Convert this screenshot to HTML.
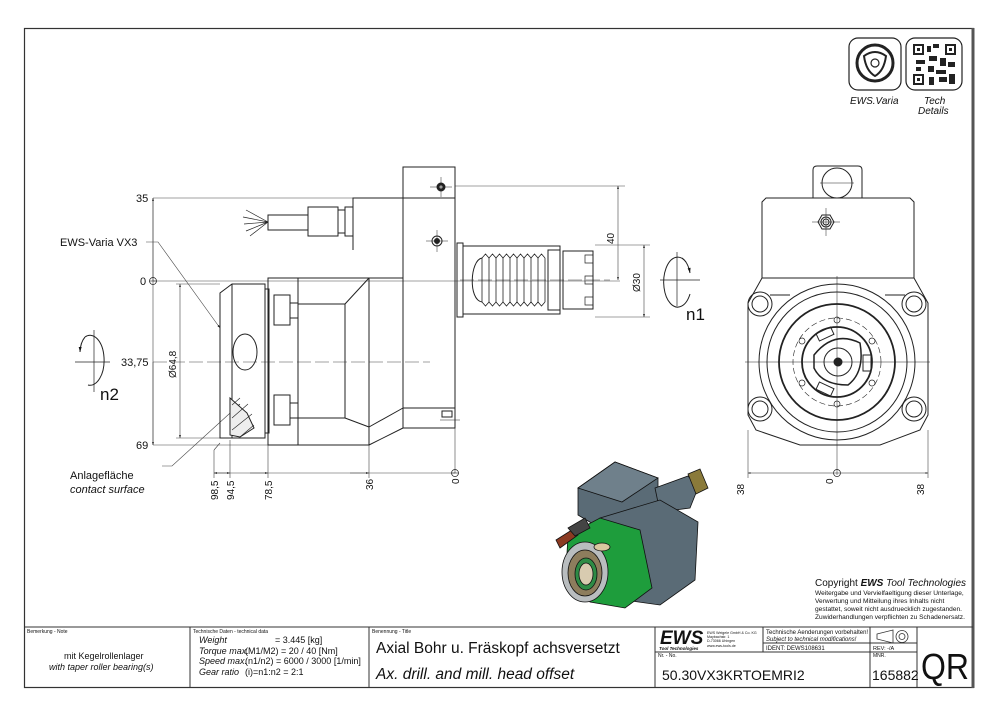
<!DOCTYPE html>
<html><head><meta charset="utf-8"><style>
html,body{margin:0;padding:0;background:#fff}
svg{display:block}
text{font-family:"Liberation Sans",sans-serif;fill:#111}
</style></head><body>
<svg width="1000" height="715" viewBox="0 0 1000 715" xmlns="http://www.w3.org/2000/svg">
<defs>
<marker id="a" viewBox="0 0 10 10" refX="10" refY="5" markerWidth="7" markerHeight="5" orient="auto-start-reverse"><path d="M0,2L10,5L0,8z" fill="#111"/></marker>
</defs>
<rect x="0" y="0" width="1000" height="715" fill="#fff"/>
<rect x="24.5" y="28.5" width="949" height="659" fill="none" stroke="#333" stroke-width="1.2"/>
<line x1="973" y1="28" x2="973" y2="688" stroke="#555" stroke-width="3"/>
<g stroke="#333" stroke-width="1" fill="none">
<line x1="24" y1="627" x2="973" y2="627"/>
<line x1="190" y1="627" x2="190" y2="688"/>
<line x1="369" y1="627" x2="369" y2="688"/>
<line x1="655" y1="627" x2="655" y2="688"/>
<line x1="763" y1="627" x2="763" y2="652"/>
<line x1="870" y1="627" x2="870" y2="688"/>
<line x1="917" y1="627" x2="917" y2="688"/>
<line x1="655" y1="652" x2="917" y2="652"/>
<line x1="763" y1="643" x2="917" y2="643"/>
</g>
<g font-size="5"><text x="27" y="633">Bemerkung - Note</text><text x="193" y="633">Technische Daten - technical data</text><text x="372" y="633">Benennung - Title</text><text x="658" y="657">Nr. - No.</text><text x="873" y="657">MNR.</text></g>
<text x="64" y="659" font-size="9">mit Kegelrollenlager</text>
<text x="49" y="670" font-size="9" font-style="italic">with taper roller bearing(s)</text>
<g font-size="9" font-style="italic"><text x="199" y="643">Weight</text><text x="199" y="654">Torque max.</text><text x="199" y="664">Speed max.</text><text x="199" y="675">Gear ratio</text></g>
<g font-size="9"><text x="275" y="643">=  3.445 [kg]</text><text x="245" y="654">(M1/M2) =  20 / 40 [Nm]</text><text x="245" y="664">(n1/n2)  =  6000 / 3000 [1/min]</text><text x="245" y="675">(i)=n1:n2 =  2:1</text></g>
<text x="376" y="653" font-size="15.5">Axial Bohr u. Fräskopf achsversetzt</text>
<text x="376" y="679" font-size="15.5" font-style="italic">Ax. drill. and mill. head offset</text>
<text x="660" y="644" font-size="19" font-weight="bold" font-style="italic">EWS</text>
<text x="659" y="650" font-size="4.5" font-weight="bold" font-style="italic">Tool Technologies</text>
<g font-size="3.6"><text x="707" y="634">EWS Weigele GmbH &amp; Co. KG</text><text x="707" y="638">Maybachstr. 1</text><text x="707" y="642">D-73066 Uhingen</text><text x="707" y="647">www.ews-tools.de</text></g>
<text x="766" y="634" font-size="6">Technische Aenderungen vorbehalten!</text>
<text x="766" y="641" font-size="6" font-style="italic">Subject to technical modifications!</text>
<text x="766" y="650" font-size="6">IDENT:  DEWS108631</text>
<text x="873" y="650" font-size="5.5">REV:  -/A</text>
<g stroke="#333" fill="none" stroke-width="0.8"><path d="M877,634L893,630L893,643L877,639z"/><circle cx="902" cy="636.5" r="6"/><circle cx="902" cy="636.5" r="3"/></g>
<text x="662" y="680" font-size="14">50.30VX3KRTOEMRI2</text>
<text x="872" y="680" font-size="14">165882</text>
<text x="921" y="679" font-size="36" textLength="48" lengthAdjust="spacingAndGlyphs">QR</text>
<g stroke="#222" fill="none" stroke-width="1.2">
<rect x="849" y="38" width="52" height="52" rx="9"/>
<rect x="906" y="38" width="56" height="52" rx="9"/>
<circle cx="875" cy="63" r="18" stroke-width="3"/>
<path d="M864,56Q875,48 886,56Q884,71 875,76Q866,71 864,56z" stroke-width="2"/>
<circle cx="875" cy="63" r="4"/>
</g>
<g fill="#222">
<rect x="913" y="44" width="11" height="11"/><rect x="945" y="44" width="11" height="11"/><rect x="913" y="74" width="11" height="11"/>
<rect x="927" y="46" width="4" height="6"/><rect x="933" y="44" width="6" height="4"/><rect x="929" y="56" width="8" height="5"/><rect x="916" y="60" width="9" height="4"/><rect x="940" y="58" width="6" height="8"/><rect x="948" y="62" width="7" height="5"/><rect x="928" y="66" width="6" height="6"/><rect x="936" y="70" width="10" height="4"/><rect x="929" y="77" width="5" height="8"/><rect x="939" y="77" width="8" height="5"/><rect x="949" y="74" width="6" height="10"/><rect x="916" y="67" width="5" height="4"/>
</g>
<g fill="#fff"><rect x="915" y="46" width="7" height="7"/><rect x="947" y="46" width="7" height="7"/><rect x="915" y="76" width="7" height="7"/></g>
<g fill="#222"><rect x="917" y="48" width="3" height="3"/><rect x="949" y="48" width="3" height="3"/><rect x="917" y="78" width="3" height="3"/></g>
<text x="850" y="104" font-size="10" font-style="italic">EWS.Varia</text>
<text x="924" y="104" font-size="10" font-style="italic">Tech</text>
<text x="918" y="114" font-size="10" font-style="italic">Details</text>

<g stroke="#222" fill="none" stroke-width="1">
<g stroke-width="0.6" stroke="#444">
<line x1="153" y1="198" x2="353" y2="198"/>
<line x1="153" y1="281" x2="620" y2="281"/>
<line x1="153" y1="445" x2="268" y2="445"/>
<line x1="153" y1="198" x2="153" y2="445"/>
<line x1="153" y1="198" x2="153" y2="281" marker-start="url(#a)"/>
<line x1="153" y1="362" x2="153" y2="445" marker-end="url(#a)"/>
<line x1="180" y1="284" x2="180" y2="438" marker-start="url(#a)" marker-end="url(#a)"/>
<line x1="176" y1="284" x2="220" y2="284"/><line x1="176" y1="438" x2="220" y2="438"/>
<line x1="153" y1="362" x2="430" y2="362" stroke-dasharray="14,4"/>
<line x1="214" y1="473" x2="455" y2="473"/>
<line x1="214" y1="450" x2="214" y2="478"/><line x1="214" y1="450" x2="220" y2="443"/>
<line x1="230" y1="440" x2="230" y2="478"/>
<line x1="268" y1="445" x2="268" y2="478"/>
<line x1="369" y1="445" x2="369" y2="478"/>
<line x1="455" y1="420" x2="455" y2="473"/>
<line x1="214" y1="473" x2="230" y2="473" marker-start="url(#a)" marker-end="url(#a)"/>
<line x1="250" y1="473" x2="268" y2="473" marker-end="url(#a)"/>
<line x1="350" y1="473" x2="369" y2="473" marker-end="url(#a)"/>
<line x1="455" y1="186" x2="625" y2="186"/>
<line x1="618" y1="186" x2="618" y2="280" marker-start="url(#a)" marker-end="url(#a)"/>
<line x1="595" y1="245" x2="650" y2="245"/><line x1="595" y1="317" x2="650" y2="317"/>
<line x1="644" y1="245" x2="644" y2="317" marker-start="url(#a)" marker-end="url(#a)"/>
<line x1="460" y1="280" x2="610" y2="280" stroke-dasharray="14,4"/>
<polyline points="146,242 158,242 220,328" marker-end="url(#a)"/>
<polyline points="162,466 172,466 240,404" marker-end="url(#a)"/>
</g>
<circle cx="153" cy="281" r="3.5" stroke-width="0.7"/><line x1="149" y1="281" x2="157" y2="281" stroke-width="0.6"/>
<circle cx="455" cy="473" r="3.5" stroke-width="0.7"/><line x1="451" y1="473" x2="459" y2="473" stroke-width="0.6"/>
<rect x="403" y="167" width="52" height="31"/>
<polyline points="353,250 353,198 455,198 455,428 403,428"/>
<line x1="403" y1="198" x2="403" y2="428"/>
<line x1="403" y1="408" x2="455" y2="408"/>
<line x1="440" y1="420" x2="460" y2="420" stroke-width="0.6"/>
<rect x="442" y="411" width="10" height="6"/>
<circle cx="441" cy="187" r="4" fill="#222"/><circle cx="441" cy="187" r="1.5" fill="#fff" stroke="none"/>
<circle cx="437" cy="241" r="5"/><circle cx="437" cy="241" r="2.5" fill="#222"/>
<g stroke-width="0.5"><line x1="430" y1="187" x2="452" y2="187"/><line x1="441" y1="177" x2="441" y2="197"/><line x1="426" y1="241" x2="448" y2="241"/><line x1="437" y1="230" x2="437" y2="252"/></g>
<rect x="268" y="215" width="40" height="15"/>
<rect x="308" y="207" width="30" height="29"/>
<rect x="338" y="210" width="7" height="23"/>
<rect x="345" y="207" width="8" height="29"/>
<path d="M268,222L246,210M268,222L243,217M268,222L244,224M268,222L246,231M268,222L250,236" stroke-width="0.7"/>
<rect x="268" y="278" width="30" height="167"/>
<polyline points="298,278 369,278 369,445 298,445"/>
<line x1="369" y1="278" x2="403" y2="278"/>
<rect x="298" y="304" width="47" height="114"/>
<line x1="345" y1="304" x2="369" y2="278"/><line x1="345" y1="418" x2="369" y2="427"/>
<line x1="369" y1="445" x2="403" y2="428"/><line x1="369" y1="427" x2="403" y2="408"/>
<rect x="274" y="295" width="16" height="30"/><rect x="274" y="395" width="16" height="30"/>
<rect x="290" y="303" width="8" height="15"/><rect x="290" y="403" width="8" height="15"/>
<path d="M220,438L220,293L232,284L265,284L265,438z"/>
<line x1="232" y1="284" x2="232" y2="438"/>
<rect x="265" y="289" width="4" height="144"/>
<ellipse cx="245" cy="352" rx="12" ry="18"/>
<path d="M230,398L247,413L254,428L240,437L230,435z" fill="#eee"/>
<path d="M232,405L240,398M232,418L248,404M232,430L252,414M240,437L254,425" stroke-width="0.6"/>
<rect x="457" y="243" width="6" height="74"/>
<rect x="463" y="246" width="97" height="68"/>
<rect x="548" y="250" width="12" height="60"/>
<path d="M482,258C470,260 468,300 482,302" />
<g stroke-width="0.8">
<path d="M482,258V302M489,258V302M496,258V302M503,258V302M510,258V302M517,258V302M524,258V302M531,258V302M538,258V302M545,258V302"/>
<path d="M482,258L485.5,254L489,258L492.5,254L496,258L499.5,254L503,258L506.5,254L510,258L513.5,254L517,258L520.5,254L524,258L527.5,254L531,258L534.5,254L538,258L541.5,254L545,258"/>
<path d="M482,302L485.5,306L489,302L492.5,306L496,302L499.5,306L503,302L506.5,306L510,302L513.5,306L517,302L520.5,306L524,302L527.5,306L531,302L534.5,306L538,302L541.5,306L545,302"/>
</g>
<path d="M563,251H593V309H563z"/>
<path d="M585,255h8v8h-8zM585,276h8v8h-8zM585,297h8v8h-8z" stroke-width="0.7"/>
<path d="M686,262A14,25 0 1 0 690,294" /><path d="M682,258A14,24 0 0 1 690,273" marker-end="url(#a)"/>
<line x1="660" y1="280" x2="700" y2="280" stroke-width="0.7"/><line x1="677" y1="252" x2="677" y2="306" stroke-width="0.7"/>
<path d="M85,337A14,25 0 1 1 88,385"/><path d="M85,337A12,20 0 0 0 80,352" marker-end="url(#a)"/>
<line x1="75" y1="362" x2="110" y2="362" stroke-width="0.7"/><line x1="94" y1="330" x2="94" y2="392" stroke-width="0.7"/>
</g>
<g font-size="11"><text x="136" y="202">35</text><text x="140" y="285">0</text><text x="121" y="366">33,75</text><text x="136" y="449">69</text>
<text x="60" y="246">EWS-Varia VX3</text><text x="70" y="479">Anlagefläche</text><text x="70" y="493" font-style="italic">contact surface</text></g>
<text x="100" y="400" font-size="17">n2</text>
<text x="686" y="320" font-size="17">n1</text>
<g font-size="10">
<text transform="translate(176,378) rotate(-90)">Ø64,8</text>
<text transform="translate(218,500) rotate(-90)">98,5</text>
<text transform="translate(234,500) rotate(-90)">94,5</text>
<text transform="translate(272,500) rotate(-90)">78,5</text>
<text transform="translate(373,490) rotate(-90)">36</text>
<text transform="translate(459,484) rotate(-90)">0</text>
<text transform="translate(614,244) rotate(-90)">40</text>
<text transform="translate(640,292) rotate(-90)">Ø30</text>
<text transform="translate(744,495) rotate(-90)">38</text>
<text transform="translate(833,484) rotate(-90)">0</text>
<text transform="translate(924,495) rotate(-90)">38</text>
</g>

<g stroke="#222" fill="none" stroke-width="1">
<path d="M813,198V170Q813,166 817,166H858Q862,166 862,170V198"/>
<circle cx="837" cy="183" r="15"/>
<path d="M762,278V202L766,198H910L914,202V278"/>
<path d="M818,222L822,215H830L834,222L830,229H822z"/><circle cx="826" cy="222" r="5"/><circle cx="826" cy="222" r="3"/>
<path d="M762,278L748,303V415L756,430L800,445H880L920,430L928,415V303L914,278z"/>
<path d="M770,295L790,295M905,295L885,295"/>
<circle cx="837" cy="362" r="78"/>
<circle cx="837" cy="362" r="70"/>
<circle cx="837" cy="362" r="58" stroke-width="1.8"/>
<circle cx="837" cy="362" r="44" stroke-dasharray="6,3" stroke-width="0.6"/>
<circle cx="837" cy="362" r="35" stroke-width="1.8"/>
<path d="M814,355Q834,330 860,343Q865,372 848,385Q822,385 814,368z" stroke-width="1.5"/>
<circle cx="838" cy="362" r="14"/><circle cx="838" cy="362" r="4" fill="#222"/>
<rect x="817" y="330" width="16" height="8" transform="rotate(-25 825 334)"/><rect x="817" y="385" width="16" height="8" transform="rotate(25 825 389)"/><rect x="863" y="355" width="8" height="16"/>
<g stroke-width="0.7"><circle cx="837" cy="320" r="3"/><circle cx="837" cy="404" r="3"/><circle cx="802" cy="341" r="3"/><circle cx="872" cy="341" r="3"/><circle cx="802" cy="383" r="3"/><circle cx="872" cy="383" r="3"/></g>
<g><circle cx="760" cy="304" r="12"/><circle cx="760" cy="304" r="8"/><circle cx="914" cy="304" r="12"/><circle cx="914" cy="304" r="8"/><circle cx="760" cy="409" r="12"/><circle cx="760" cy="409" r="8"/><circle cx="914" cy="409" r="12"/><circle cx="914" cy="409" r="8"/></g>
<g stroke-width="0.5"><line x1="837" y1="276" x2="837" y2="475"/><line x1="745" y1="362" x2="930" y2="362"/><line x1="748" y1="430" x2="748" y2="478"/><line x1="928" y1="430" x2="928" y2="478"/><line x1="826" y1="208" x2="826" y2="236"/><line x1="812" y1="222" x2="840" y2="222"/><line x1="820" y1="183" x2="854" y2="183"/>
<line x1="748" y1="473" x2="928" y2="473" marker-start="url(#a)" marker-end="url(#a)"/></g>
<circle cx="837" cy="473" r="3.5" stroke-width="0.7"/>
</g>

<g stroke="#111" stroke-width="0.8">
<polygon points="578,488 615,462 658,478 658,520 620,540 578,515" fill="#5a6b76"/>
<polygon points="578,488 615,462 658,478 622,502" fill="#6f808b"/>
<polygon points="655,488 688,476 698,488 690,508 660,512" fill="#5f707b"/>
<polygon points="688,474 700,469 708,488 696,494" fill="#8a7a3a"/>
<polygon points="600,518 660,500 698,522 695,580 660,605 610,598" fill="#5a6b76"/>
<polygon points="568,535 600,518 640,530 652,588 625,608 590,602 566,572" fill="#1e9d3c"/>
<ellipse cx="585" cy="572" rx="23" ry="30" fill="#b9bdbf"/>
<ellipse cx="585" cy="573" rx="17" ry="23" fill="#8d7d5d"/>
<ellipse cx="586" cy="574" rx="11" ry="16" fill="#2e8b45"/>
<ellipse cx="586" cy="574" rx="7" ry="11" fill="#d8cbb0"/>
<polygon points="556,540 575,528 578,535 560,548" fill="#8b3a22"/>
<polygon points="568,528 585,518 590,528 575,536" fill="#444"/>
<ellipse cx="602" cy="547" rx="8" ry="4" fill="#d9c8a0"/>
</g>

<text x="815" y="586" font-size="10">Copyright <tspan font-weight="bold" font-style="italic">EWS</tspan> <tspan font-style="italic">Tool Technologies</tspan></text>
<g font-size="6.6"><text x="815" y="595">Weitergabe und Vervielfaeltigung dieser Unterlage,</text><text x="815" y="603">Verwertung und Mitteilung ihres Inhalts nicht</text><text x="815" y="611">gestattet, soweit nicht ausdruecklich zugestanden.</text><text x="815" y="619">Zuwiderhandlungen verpflichten zu Schadenersatz.</text></g>
</svg>
</body></html>
